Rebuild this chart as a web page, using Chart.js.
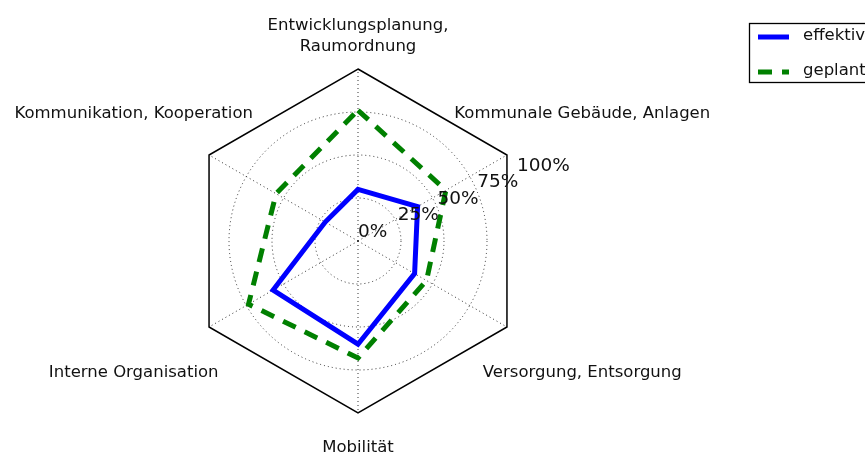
<!DOCTYPE html>
<html>
<head>
<meta charset="utf-8">
<script src="https://cdn.jsdelivr.net/npm/chart.js@4/dist/chart.umd.min.js"></script>
<style>
html, body { margin: 0; padding: 0; background: #fff; overflow: hidden; }
canvas { display: block; }
</style>
</head>
<body>
<canvas id="c" width="865" height="455"></canvas>
<script>
// ---- data ----
const categories = [
  ['Entwicklungsplanung,', 'Raumordnung'],
  'Kommunale Gebäude, Anlagen',
  'Versorgung, Entsorgung',
  'Mobilität',
  'Interne Organisation',
  'Kommunikation, Kooperation'
];
const seriesNames = ['effektiv', 'geplant'];
const effektiv = [0.30, 0.40, 0.38, 0.60, 0.57, 0.22];
const geplant  = [0.76, 0.59, 0.46, 0.68, 0.735, 0.55];
const tickValues = [0, 0.25, 0.5, 0.75, 1];
const tickLabels = ['0%', '25%', '50%', '75%', '100%'];

// ---- styling ----
const FONT = '"DejaVu Sans", "Bitstream Vera Sans", Verdana, sans-serif';
const TEXT_COLOR = '#111';
const GRID_COLOR = 'rgba(0,0,0,0.8)';

const radarDecor = {
  id: 'radarDecor',
  afterDraw(chart) {
    const scale = chart.scales.r;
    const ctx = chart.ctx;
    ctx.save();
    ctx.fillStyle = TEXT_COLOR;

    // category labels around the frame
    const labelFont = 16.5;
    const capH = labelFont * 0.729;
    const lineH = 21;
    ctx.font = labelFont + 'px ' + FONT;
    ctx.textAlign = 'center';
    ctx.textBaseline = 'alphabetic';
    const n = chart.data.labels.length;
    for (let i = 0; i < n; i++) {
      const ang = scale.getIndexAngle(i);
      const vertical = Math.abs(Math.sin(ang)) < 0.1;
      const extra = vertical ? (Math.cos(ang) > 0 ? 35 : 33) : 87;
      const p = scale.getPointPosition(i, scale.drawingArea + extra);
      const lab = chart.data.labels[i];
      const lines = Array.isArray(lab) ? lab : [lab];
      lines.forEach((t, j) => {
        const y = p.y + (j - (lines.length - 1) / 2) * lineH + capH / 2;
        ctx.fillText(t, p.x, y);
      });
    }

    // radial tick labels along 22.5 degrees
    const tickFont = 18.5;
    ctx.font = tickFont + 'px ' + FONT;
    ctx.textAlign = 'left';
    ctx.textBaseline = 'bottom';
    const a = 22.5 * Math.PI / 180;
    scale.ticks.forEach((t) => {
      const d = scale.getDistanceFromCenterForValue(t.value);
      const x = scale.xCenter + Math.cos(a) * d;
      const y = scale.yCenter - Math.sin(a) * d;
      ctx.fillText(t.label, x, y);
    });

    // legend (partly outside the canvas, as in the reference)
    const lx = 749.5, ly = 23.5, lw = 200, lh = 59;
    ctx.fillStyle = '#fff';
    ctx.fillRect(lx, ly, lw, lh);
    ctx.strokeStyle = '#000';
    ctx.lineWidth = 1.3;
    ctx.setLineDash([]);
    ctx.strokeRect(lx, ly, lw, lh);
    ctx.font = '16.5px ' + FONT;
    ctx.textAlign = 'left';
    ctx.textBaseline = 'middle';
    chart.data.datasets.forEach((ds, k) => {
      const y = 37 + k * 35;
      ctx.save();
      ctx.strokeStyle = ds.borderColor;
      ctx.lineWidth = ds.borderWidth;
      ctx.setLineDash(ds.borderDash || []);
      ctx.lineCap = 'butt';
      ctx.beginPath();
      ctx.moveTo(758, y);
      ctx.lineTo(789, y);
      ctx.stroke();
      ctx.restore();
      ctx.fillStyle = TEXT_COLOR;
      ctx.fillText(ds.label, 803, y - 1);
    });
    ctx.restore();
  }
};

new Chart(document.getElementById('c'), {
  type: 'radar',
  data: {
    labels: categories,
    datasets: [
      {
        label: seriesNames[0],
        data: effektiv,
        borderColor: '#0000ff',
        borderWidth: 5,
        borderJoinStyle: 'miter',
        fill: false,
        pointRadius: 0,
        pointHoverRadius: 0,
        tension: 0
      },
      {
        label: seriesNames[1],
        data: geplant,
        borderColor: '#008000',
        borderWidth: 5,
        borderDash: [14, 10],
        borderCapStyle: 'butt',
        borderJoinStyle: 'miter',
        fill: false,
        pointRadius: 0,
        pointHoverRadius: 0,
        tension: 0
      }
    ]
  },
  options: {
    responsive: false,
    animation: false,
    events: [],
    layout: { padding: { left: 186, right: 334, top: 69, bottom: 41 } },
    plugins: {
      legend: { display: false },
      tooltip: { enabled: false },
      title: { display: false }
    },
    scales: {
      r: {
        min: tickValues[0],
        max: tickValues[tickValues.length - 1],
        startAngle: 0,
        afterBuildTicks: (scale) => {
          scale.ticks = tickValues.map((v) => ({ value: v }));
        },
        ticks: {
          display: false,
          callback: (value, index) => tickLabels[index]
        },
        pointLabels: { display: false },
        angleLines: {
          display: true,
          color: GRID_COLOR,
          lineWidth: 1,
          borderDash: [1, 3]
        },
        grid: {
          circular: (c) => c.tick && c.tick.value < 1,
          color: (c) => (c.tick && c.tick.value < 1) ? GRID_COLOR : '#000',
          lineWidth: (c) => (c.tick && c.tick.value < 1) ? 1 : 1.5
        },
        border: {
          dash: (c) => (c.tick && c.tick.value < 1) ? [1, 3] : []
        }
      }
    }
  },
  plugins: [radarDecor]
});
</script>
</body>
</html>
